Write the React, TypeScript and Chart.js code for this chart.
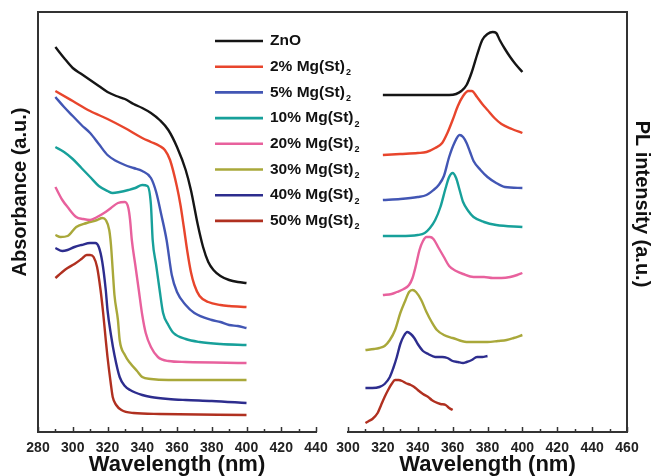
import React, { useEffect, useRef } from "react";
import { Chart, registerables } from "chart.js";

Chart.register(...registerables);

const FONT = "'Liberation Sans', Arial, sans-serif";

// ---------- legend / series meta ----------
const seriesNames = ["ZnO", "2% Mg(St)", "5% Mg(St)", "10% Mg(St)", "20% Mg(St)", "30% Mg(St)", "40% Mg(St)", "50% Mg(St)"];
const seriesSubscripts = ["", "2", "2", "2", "2", "2", "2", "2"];
const seriesColors = ["#151515", "#e8452c", "#4256b4", "#17a09a", "#e8619d", "#a9a83a", "#2d2d8e", "#b03020"];

// ---------- axis ranges / ticks ----------
const absXRange = [280, 440];
const plXRange = [300, 460];
const xTickStep = 20;
const xMinorStep = 10;
const yRange = [0, 420];

// ---------- absorbance spectra [wavelength nm, absorbance a.u. (offset)] ----------
const absZnO = [[290, 385], [295, 374], [300, 364], [305, 358], [310, 352], [315, 346], [320, 340], [325, 336], [330, 333], [335, 328], [340, 324], [345, 319], [350, 312], [355, 302], [360, 285], [365, 262], [368, 242], [372, 207], [375, 185], [378, 170], [381, 162], [385, 156], [390, 152], [395, 150], [400, 149]];
const abs2 = [[290, 341], [300, 331], [310, 321], [320, 313], [330, 304], [340, 294], [345, 290], [350, 286], [353, 282], [356, 272], [360, 245], [362, 227], [364, 204], [366, 180], [368, 160], [370, 147], [373, 136], [378, 130], [385, 127], [390, 126], [400, 125]];
const abs5 = [[290, 335], [295, 325], [300, 316], [305, 307], [310, 299], [315, 288], [320, 277], [325, 271], [330, 267], [335, 264], [340, 261], [345, 254], [348, 240], [351, 217], [354, 192], [357, 157], [360, 140], [365, 127], [370, 119], [380, 112], [385, 110], [390, 107], [395, 106], [400, 104]];
const abs10 = [[290, 285], [295, 280], [300, 273], [305, 264], [310, 255], [315, 246], [320, 241], [323, 239], [327, 240], [332, 242], [336, 244], [340, 247], [343, 246], [345, 227], [346, 192], [348, 167], [350, 142], [352, 119], [355, 107], [358, 99], [365, 93], [373, 90], [385, 88], [400, 87]];
const abs20 = [[290, 245], [294, 232], [297, 225], [302, 215], [306, 213], [310, 212], [314, 215], [318, 219], [322, 224], [326, 229], [330, 230], [332, 224], [333, 212], [334, 192], [336, 167], [338, 142], [340, 117], [342, 99], [345, 85], [349, 75], [355, 71], [365, 70], [400, 69]];
const abs30 = [[290, 197], [293, 195], [297, 196], [302, 205], [308, 209], [314, 212], [317, 214], [319, 212], [321, 202], [322, 187], [323, 162], [324, 137], [326, 112], [327, 92], [330, 77], [333, 69], [337, 61], [340, 55], [345, 53], [355, 52], [400, 52]];
const abs40 = [[290, 184], [294, 181], [297, 182], [301, 185], [305, 187], [310, 189], [313, 189], [315, 185], [317, 170], [319, 142], [320, 122], [322, 97], [324, 77], [327, 55], [330, 46], [333, 42], [340, 37], [345, 35], [355, 33], [365, 32], [380, 31], [400, 29]];
const abs50 = [[290, 154], [294, 160], [297, 164], [301, 168], [305, 173], [308, 177], [310, 177], [312, 175], [314, 165], [316, 142], [317.5, 119], [319, 92], [320, 75], [322, 47], [323, 35], [325, 27], [328, 22], [335, 19], [350, 18], [400, 17]];

// ---------- PL spectra [wavelength nm, PL intensity a.u. (offset)] ----------
const plZnO = [[320, 337], [330, 337], [340, 337], [350, 337], [358, 337], [362, 338], [365, 341], [368, 347], [371, 360], [374, 377], [377, 392], [380, 398], [383, 400], [385, 399], [387, 392], [390, 383], [393, 375], [396, 368], [400, 360]];
const pl2 = [[320, 277], [330, 278], [340, 279], [345, 280], [350, 284], [354, 289], [357, 299], [360, 312], [363, 326], [366, 336], [369, 341], [371, 341], [374, 335], [377, 328], [380, 322], [384, 314], [388, 308], [394, 303], [400, 299]];
const pl5 = [[320, 232], [330, 233], [340, 235], [345, 237], [349, 242], [352, 247], [355, 256], [358, 275], [361, 289], [364, 297], [366, 295], [368, 289], [370, 280], [372, 271], [376, 262], [380, 255], [385, 249], [390, 245], [400, 244]];
const pl10 = [[320, 196], [330, 196], [340, 197], [344, 199], [347, 204], [350, 212], [353, 225], [356, 244], [358, 255], [360, 259], [362, 254], [364, 242], [366, 230], [369, 221], [372, 215], [378, 210], [385, 207], [400, 205]];
const pl20 = [[320, 137], [325, 138], [328, 140], [332, 143], [335, 147], [337, 154], [339, 167], [341, 182], [343, 191], [345, 195], [347, 195], [349, 193], [352, 184], [355, 175], [358, 166], [362, 161], [366, 158], [372, 155], [378, 155], [383, 154], [388, 154], [393, 155], [397, 157], [400, 159]];
const pl30 = [[310, 82], [315, 83], [318, 84], [321, 86], [324, 92], [327, 102], [330, 119], [333, 132], [335, 140], [337, 142], [339, 140], [342, 132], [345, 120], [348, 110], [351, 102], [355, 97], [360, 94], [368, 90], [375, 90], [380, 90], [386, 91], [391, 92], [395, 94], [400, 97]];
const pl40 = [[310, 44], [314, 44], [318, 45], [321, 48], [324, 55], [326, 64], [328, 75], [330, 88], [332, 96], [334, 100], [336, 98], [338, 94], [340, 88], [343, 81], [346, 78], [350, 75], [354, 75], [357, 74], [360, 71], [363, 70], [366, 69], [368, 70], [371, 72], [374, 75], [377, 75], [380, 76]];
const pl50 = [[310, 9], [312, 11], [314, 13], [317, 19], [319, 27], [321, 35], [323, 42], [325, 48], [327, 52], [329, 52], [331, 51], [333, 49], [336, 47], [338, 45], [340, 42], [343, 38], [346, 35], [348, 32], [350, 30], [353, 28], [356, 27], [358, 24], [360, 22]];

const absSeries = [absZnO, abs2, abs5, abs10, abs20, abs30, abs40, abs50];
const plSeries = [plZnO, pl2, pl5, pl10, pl20, pl30, pl40, pl50];

const axisColor = "#333";

function makeDatasets(series: number[][][]) {
  return series.map((s, i) => ({
    label: seriesNames[i] + seriesSubscripts[i],
    data: s.map(([x, y]) => ({ x, y })),
    borderColor: seriesColors[i],
    backgroundColor: seriesColors[i],
    borderWidth: 2.4,
    pointRadius: 0,
    cubicInterpolationMode: "monotone" as const,
    fill: false,
  }));
}

// inward x ticks (+ optional full top frame line)
const framePlugin = (drawTop: boolean) => ({
  id: "frame",
  afterDraw(chart: any) {
    const { ctx, chartArea, scales } = chart;
    const xs = scales.x;
    ctx.save();
    ctx.strokeStyle = axisColor;
    if (drawTop) {
      ctx.lineWidth = 2;
      ctx.beginPath();
      ctx.moveTo(chartArea.left - 1, chartArea.top);
      ctx.lineTo(628, chartArea.top);
      ctx.stroke();
    }
    ctx.lineWidth = 1.5;
    for (let v = xs.min; v <= xs.max + 0.001; v += xMinorStep) {
      const px = Math.round(xs.getPixelForValue(v)) + 0.5;
      const len = (v - xs.min) % xTickStep === 0 ? 5 : 3;
      ctx.beginPath();
      ctx.moveTo(px, chartArea.bottom);
      ctx.lineTo(px, chartArea.bottom - len);
      ctx.stroke();
    }
    ctx.restore();
  },
});

const yTitlePlugin = (text: string, x: number, y: number, rot: number) => ({
  id: "ytitle",
  afterDraw(chart: any) {
    const { ctx } = chart;
    ctx.save();
    ctx.translate(x, y);
    ctx.rotate(rot);
    ctx.font = `bold 20px ${FONT}`;
    ctx.fillStyle = "#111";
    ctx.textAlign = "center";
    ctx.textBaseline = "middle";
    ctx.fillText(text, 0, 0);
    ctx.restore();
  },
});

const legendPlugin = {
  id: "customLegend",
  afterDraw(chart: any) {
    const { ctx } = chart;
    ctx.save();
    seriesNames.forEach((name, i) => {
      const y = 41 + i * 25.7;
      ctx.strokeStyle = seriesColors[i];
      ctx.lineWidth = 2.6;
      ctx.beginPath();
      ctx.moveTo(215, y);
      ctx.lineTo(263, y);
      ctx.stroke();
      ctx.fillStyle = "#111";
      ctx.textBaseline = "middle";
      ctx.textAlign = "left";
      ctx.font = `bold 15.5px ${FONT}`;
      ctx.fillText(name, 270, y);
      const w = ctx.measureText(name).width;
      if (seriesSubscripts[i]) {
        ctx.font = `bold 9px ${FONT}`;
        ctx.fillText(seriesSubscripts[i], 270 + w + 1, y + 6);
      }
    });
    ctx.restore();
  },
};

function baseXScale(range: number[]) {
  return {
    type: "linear" as const,
    position: "bottom" as const,
    min: range[0],
    max: range[1],
    ticks: {
      stepSize: xTickStep,
      autoSkip: false,
      maxRotation: 0,
      padding: 8,
      color: "#222",
      font: { family: FONT, size: 14, weight: "bold" as const },
    },
    grid: { display: false, drawTicks: false },
    border: { display: true, color: axisColor, width: 2 },
    title: {
      display: true,
      text: "Wavelength (nm)",
      color: "#111",
      font: { family: FONT, size: 22, weight: "bold" as const },
      padding: { top: 0, bottom: -2 },
    },
    afterFit: (s: any) => {
      s.height = 44;
    },
  };
}

const W = 653;
const H = 476;

export default function App() {
  const leftRef = useRef<HTMLCanvasElement>(null);
  const rightRef = useRef<HTMLCanvasElement>(null);

  useEffect(() => {
    Chart.defaults.font.family = FONT;
    const left = new Chart(leftRef.current!, {
      type: "line",
      data: { datasets: makeDatasets(absSeries) as any },
      options: {
        animation: false,
        responsive: false,
        layout: { padding: { top: 12, right: W - 316, left: 0, bottom: 0 } },
        plugins: { legend: { display: false }, tooltip: { enabled: false } },
        scales: {
          x: baseXScale(absXRange) as any,
          y: {
            type: "linear",
            position: "left",
            min: yRange[0],
            max: yRange[1],
            ticks: { display: false },
            grid: { display: false, drawTicks: false },
            border: { display: true, color: axisColor, width: 2 },
            afterFit: (s: any) => {
              s.width = 38;
            },
          },
        },
      },
      plugins: [framePlugin(true), yTitlePlugin("Absorbance (a.u.)", 20, 192, -Math.PI / 2), legendPlugin],
    });

    const right = new Chart(rightRef.current!, {
      type: "line",
      data: { datasets: makeDatasets(plSeries) as any },
      options: {
        animation: false,
        responsive: false,
        layout: { padding: { top: 12, right: 0, left: 348, bottom: 0 } },
        plugins: { legend: { display: false }, tooltip: { enabled: false } },
        scales: {
          x: baseXScale(plXRange) as any,
          y: {
            type: "linear",
            position: "right",
            min: yRange[0],
            max: yRange[1],
            ticks: { display: false },
            grid: { display: false, drawTicks: false },
            border: { display: true, color: axisColor, width: 2 },
            afterFit: (s: any) => {
              s.width = W - 627;
            },
          },
        },
      },
      plugins: [framePlugin(false), yTitlePlugin("PL intensity (a.u.)", 642, 204, Math.PI / 2)],
    });

    return () => {
      left.destroy();
      right.destroy();
    };
  }, []);

  return (
    <div style={{ position: "absolute", left: 0, top: 0, width: W, height: H, background: "#fff" }}>
      <canvas ref={leftRef} width={W} height={H} style={{ position: "absolute", left: 0, top: 0, width: W, height: H }} />
      <canvas ref={rightRef} width={W} height={H} style={{ position: "absolute", left: 0, top: 0, width: W, height: H }} />
    </div>
  );
}
